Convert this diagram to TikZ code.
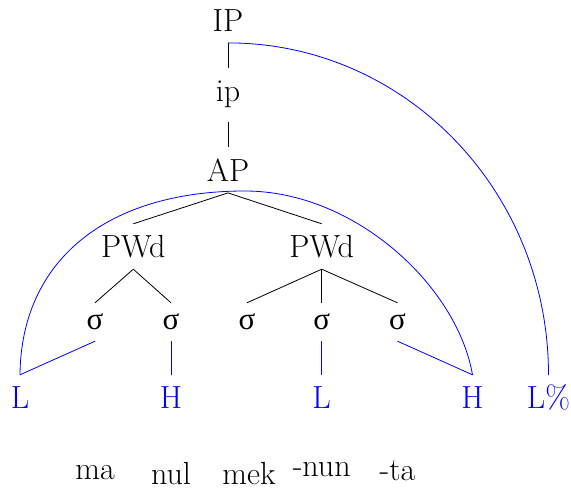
\documentclass[tikz,border=0pt]{standalone}
\usepackage{fontspec}
\newfontfamily\greekserif{Liberation Serif}
\usetikzlibrary{calc}
\begin{document}
\begin{tikzpicture}[x=1pt,y=-1pt,
  every node/.style={inner sep=0pt, anchor=base, font=\fontsize{32}{34}\selectfont},
  lbl/.style={text height=34pt, text depth=11pt},
  syl/.style={text height=27pt, text depth=11pt, font=\fontsize{31}{33}\selectfont\greekserif},
  tone/.style={text=blue, text height=34pt, text depth=11pt},
  branch/.style={draw=black, line width=0.8pt},
  assoc/.style={draw=blue, line width=0.8pt}]
\useasboundingbox (0,0) rectangle (571,489);

% prosodic hierarchy
\node[lbl] (IP) at (228,31.7) {IP};
\node[lbl, text height=33pt, text depth=20pt] (ip) at (228,101.7) {ip};
\node[lbl] (AP) at (228,181.7) {AP};
\node[lbl] (pw1) at (133.3,258) {PWd};
\node[lbl] (pw2) at (321.7,258) {PWd};

% syllables
\node[syl] (s1) at (95,330) {σ};
\node[syl] (s2) at (171,330) {σ};
\node[syl] (s3) at (247,330) {σ};
\node[syl] (s4) at (321.7,330) {σ};
\node[syl] (s5) at (397.5,330) {σ};

% tones
\node[tone] (t1) at (20,409) {L};
\node[tone] (t2) at (171,409) {H};
\node[tone] (t3) at (321.7,409) {L};
\node[tone] (t4) at (472.5,409) {H};
\node[tone] (t5) at (548.5,409) {L\%};

% segmental string
\node (w1) at (95,479) {ma};
\node (w2) at (171,484) {nul};
\node (w3) at (249,484) {mek};
\node (w4) at (321.7,476) {-nun};
\node (w5) at (397.5,480) {-ta};

% tree branches
\draw[branch] (IP.south) -- (ip.north);
\draw[branch] (ip.south) -- (AP.north);
\draw[branch] (AP.south) -- (pw1.north);
\draw[branch] (AP.south) -- (pw2.north);
\draw[branch] (pw1.south) -- (s1.north);
\draw[branch] (pw1.south) -- (s2.north);
\draw[branch] (pw2.south) -- (s3.north);
\draw[branch] (pw2.south) -- (s4.north);
\draw[branch] (pw2.south) -- (s5.north);

% tone association lines
\draw[assoc] (s1.south) -- (t1.north);
\draw[assoc] (s2.south) -- (t2.north);
\draw[assoc] (s4.south) -- (t3.north);
\draw[assoc] (s5.south) -- (t4.north);

% AP edge tones
\coordinate (apex) at (245,191);
\draw[assoc] (t1.north) .. controls +(1,-113) and +(-140,0) .. (apex)
                        .. controls +(110,0) and +(-15.3,-88.6) .. (t4.north);

% IP boundary tone
\draw[assoc] (IP.south) .. controls +(177,0) and +(0,-184) .. (t5.north);
\end{tikzpicture}
\end{document}
